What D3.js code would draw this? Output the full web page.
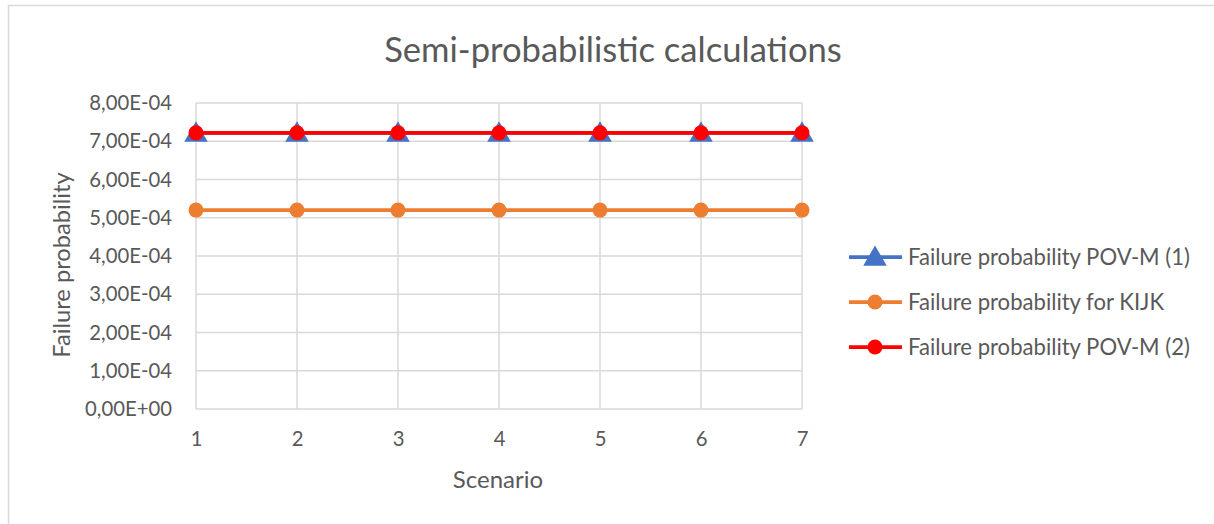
<!DOCTYPE html>
<html>
<head>
<meta charset="utf-8">
<script src="https://cdn.jsdelivr.net/npm/d3@7/dist/d3.min.js"></script>
<style>
  html, body { margin: 0; padding: 0; background: #fff; }
  svg { display: block; }
  text { font-family: Lato, "Open Sans", sans-serif; fill: #595959; }
</style>
</head>
<body>
<svg id="chart" width="1214" height="524"></svg>
<script>
// Scenarios along the x axis
const scenarios = [1, 2, 3, 4, 5, 6, 7];
// Failure probabilities per scenario
const povM1 = [7.22e-4, 7.22e-4, 7.22e-4, 7.22e-4, 7.22e-4, 7.22e-4, 7.22e-4];
const kijk  = [5.20e-4, 5.20e-4, 5.20e-4, 5.20e-4, 5.20e-4, 5.20e-4, 5.20e-4];
const povM2 = [7.22e-4, 7.22e-4, 7.22e-4, 7.22e-4, 7.22e-4, 7.22e-4, 7.22e-4];
// Y axis ticks
const yTicks = [0, 1e-4, 2e-4, 3e-4, 4e-4, 5e-4, 6e-4, 7e-4, 8e-4];
const yTickLabels = ["0,00E+00", "1,00E-04", "2,00E-04", "3,00E-04", "4,00E-04",
                     "5,00E-04", "6,00E-04", "7,00E-04", "8,00E-04"];

const seriesNames = ["Failure probability POV-M (1)", "Failure probability for KIJK", "Failure probability POV-M (2)"];
const seriesValues = [povM1, kijk, povM2];
const seriesColors = ["#4472C4", "#ED7D31", "#FF0000"];
const seriesMarkers = ["triangle", "circle", "circle"];

const svg = d3.select("#chart");

// Outer chart border (top and left edges visible)
svg.append("path")
  .attr("d", "M8.5,524 L8.5,5.5 L1214,5.5")
  .attr("fill", "none").attr("stroke", "#d9d9d9").attr("stroke-width", 1.5);

const x = d3.scaleLinear().domain([1, 7]).range([196, 802]);
const y = d3.scaleLinear().domain([0, 8e-4]).range([409, 103]);

// Gridlines
const grid = svg.append("g");
grid.selectAll("line.h").data(yTicks).join("line")
  .attr("x1", x(1)).attr("x2", x(7))
  .attr("y1", d => y(d)).attr("y2", d => y(d))
  .attr("stroke", "#d9d9d9").attr("stroke-width", 1.5);
grid.selectAll("line.v").data(scenarios).join("line")
  .attr("x1", d => x(d)).attr("x2", d => x(d))
  .attr("y1", y(0)).attr("y2", y(8e-4))
  .attr("stroke", "#d9d9d9").attr("stroke-width", 1.5);

// Y axis
const yAxis = d3.axisLeft(y).tickValues(yTicks)
  .tickFormat((d, i) => yTickLabels[i]).tickSize(0).tickPadding(24);
const gy = svg.append("g").attr("transform", `translate(${x(1)},0)`).call(yAxis);
gy.select(".domain").remove();
gy.selectAll("text").attr("font-size", 20.3).attr("fill", "#595959")
  .style("font-family", "Lato, sans-serif");

// X axis
const xAxis = d3.axisBottom(x).tickValues(scenarios).tickFormat(d3.format("d"))
  .tickSize(0).tickPadding(23);
const gx = svg.append("g").attr("transform", `translate(0,${y(0)})`).call(xAxis);
gx.select(".domain").remove();
gx.selectAll("text").attr("font-size", 20.3).attr("fill", "#595959")
  .style("font-family", "Lato, sans-serif");

// Titles
svg.append("text").attr("x", 613).attr("y", 62).attr("text-anchor", "middle")
  .attr("font-size", 34.6).text("Semi-probabilistic calculations");
svg.append("text").attr("x", 498).attr("y", 488).attr("text-anchor", "middle")
  .attr("font-size", 24).text("Scenario");
svg.append("text").attr("transform", "translate(70,265) rotate(-90)")
  .attr("text-anchor", "middle").attr("font-size", 23.7).text("Failure probability");

const line = d3.line().x((d, i) => x(scenarios[i])).y(d => y(d));
const tri = d3.symbol().type(d3.symbolTriangle).size(240);

function drawMarker(g, type, color, cx, cy) {
  if (type === "triangle") {
    g.append("path").attr("d", tri()).attr("transform", `translate(${cx},${cy + 2})`)
      .attr("fill", color);
  } else {
    g.append("circle").attr("cx", cx).attr("cy", cy).attr("r", 7.5).attr("fill", color);
  }
}

// Series lines and markers
seriesValues.forEach((vals, s) => {
  const g = svg.append("g");
  g.append("path").datum(vals).attr("d", line)
    .attr("fill", "none").attr("stroke", seriesColors[s]).attr("stroke-width", 3.75);
  vals.forEach((v, i) => drawMarker(g, seriesMarkers[s], seriesColors[s], x(scenarios[i]), y(v)));
});

// Legend
const legendY = [257, 302, 347];
seriesNames.forEach((name, s) => {
  const g = svg.append("g");
  g.append("line").attr("x1", 849).attr("x2", 902)
    .attr("y1", legendY[s]).attr("y2", legendY[s])
    .attr("stroke", seriesColors[s]).attr("stroke-width", 3.75);
  drawMarker(g, seriesMarkers[s], seriesColors[s], 875, legendY[s]);
  g.append("text").attr("x", 908).attr("y", legendY[s] + 8)
    .attr("font-size", 22.1).text(name);
});
</script>
</body>
</html>
